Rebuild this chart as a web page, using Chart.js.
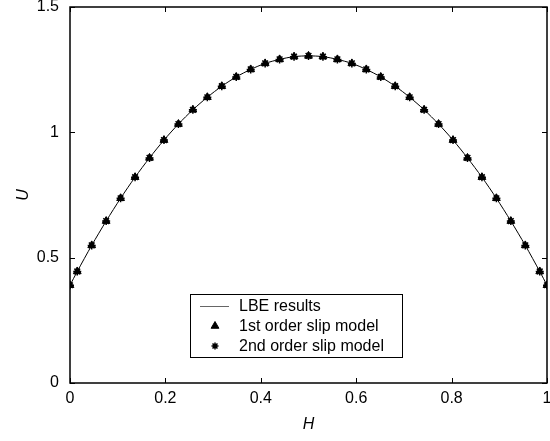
<!DOCTYPE html>
<html>
<head>
<meta charset="utf-8">
<script src="https://cdn.jsdelivr.net/npm/chart.js@4/dist/chart.umd.min.js"></script>
<style>
  html, body { margin: 0; padding: 0; background: #fff; }
  #wrap { width: 550px; height: 441px; }
</style>
</head>
<body>
<div id="wrap"><canvas id="velChart" width="550" height="441"></canvas></div>
<script>
// values
const hValues = [0, 0.0152, 0.0455, 0.0758, 0.1061, 0.1364, 0.1667, 0.1970, 0.2273, 0.2576,
  0.2879, 0.3182, 0.3485, 0.3788, 0.4091, 0.4394, 0.4697, 0.5, 0.5303, 0.5606,
  0.5909, 0.6212, 0.6515, 0.6818, 0.7121, 0.7424, 0.7727, 0.8030, 0.8333, 0.8636,
  0.8939, 0.9242, 0.9545, 0.9848, 1];
const uLbe = [0.390, 0.445, 0.549, 0.646, 0.737, 0.821, 0.898, 0.969, 1.033, 1.090,
  1.140, 1.184, 1.221, 1.251, 1.275, 1.291, 1.302, 1.305, 1.302, 1.291,
  1.275, 1.251, 1.221, 1.184, 1.140, 1.090, 1.033, 0.969, 0.898, 0.821,
  0.737, 0.646, 0.549, 0.445, 0.390];
const uFirstOrder = uLbe.slice();
const uSecondOrder = uLbe.slice();
const xTicks = [0, 0.2, 0.4, 0.6, 0.8, 1];
const yTicks = [0, 0.5, 1, 1.5];
const legendLabels = ['LBE results', '1st order slip model', '2nd order slip model'];

const font = 'Liberation Sans, Arial, sans-serif';

function pts(ys) {
  return hValues.map((h, i) => ({ x: h, y: ys[i] }));
}

function noPad(s) {
  s.paddingLeft = 0; s.paddingRight = 0; s.paddingTop = 0; s.paddingBottom = 0;
}

// matlab-like box with inward ticks, x labels and legend
const framePlugin = {
  id: 'frame',
  afterDraw(chart) {
    const { ctx, chartArea: a, scales } = chart;
    ctx.save();
    ctx.strokeStyle = '#000';
    ctx.lineWidth = 1.5;
    ctx.strokeRect(a.left, a.top, a.right - a.left, a.bottom - a.top);
    ctx.lineWidth = 1;
    ctx.beginPath();
    xTicks.forEach(v => {
      const px = Math.round(scales.x.getPixelForValue(v)) + 0.5;
      ctx.moveTo(px, a.bottom); ctx.lineTo(px, a.bottom - 5);
      ctx.moveTo(px, a.top); ctx.lineTo(px, a.top + 5);
    });
    yTicks.forEach(v => {
      const py = Math.round(scales.y.getPixelForValue(v)) + 0.5;
      ctx.moveTo(a.left, py); ctx.lineTo(a.left + 5, py);
      ctx.moveTo(a.right, py); ctx.lineTo(a.right - 5, py);
    });
    ctx.stroke();

    // x tick labels (drawn here so they don't shrink the plot area)
    ctx.fillStyle = '#000';
    ctx.font = '16px ' + font;
    ctx.textAlign = 'center';
    ctx.textBaseline = 'middle';
    xTicks.forEach(v => ctx.fillText(String(v), scales.x.getPixelForValue(v), a.bottom + 16));

    // legend box
    const lx = 190, ly = 294, lw = 212, lh = 63;
    ctx.fillStyle = '#fff';
    ctx.fillRect(lx, ly, lw, lh);
    ctx.lineWidth = 1;
    ctx.strokeRect(lx + 0.5, ly + 0.5, lw, lh);
    ctx.textAlign = 'left';
    const rows = [306, 326, 346];
    ctx.strokeStyle = '#666';
    ctx.beginPath();
    ctx.moveTo(200, rows[0] + 0.5); ctx.lineTo(229, rows[0] + 0.5);
    ctx.stroke();
    ctx.strokeStyle = '#000';
    ctx.fillStyle = '#000';
    Chart.helpers.drawPoint(ctx, { pointStyle: 'triangle', radius: 4.5, rotation: 0, borderWidth: 1 }, 215, rows[1]);
    ctx.lineWidth = 1.5;
    Chart.helpers.drawPoint(ctx, { pointStyle: 'star', radius: 3.5, rotation: 0, borderWidth: 1.5 }, 215, rows[2]);
    ctx.fillStyle = '#000';
    legendLabels.forEach((t, i) => ctx.fillText(t, 239, rows[i] + 1));
    ctx.restore();
  }
};

new Chart(document.getElementById('velChart'), {
  type: 'scatter',
  data: {
    datasets: [
      {
        label: legendLabels[0],
        data: pts(uLbe),
        showLine: true,
        borderColor: '#000',
        borderWidth: 1,
        pointRadius: 0,
        tension: 0.3,
        order: 3
      },
      {
        label: legendLabels[1],
        data: pts(uFirstOrder),
        pointStyle: 'triangle',
        pointRadius: 4.5,
        backgroundColor: '#000',
        borderColor: '#000',
        borderWidth: 1,
        order: 2
      },
      {
        label: legendLabels[2],
        data: pts(uSecondOrder),
        pointStyle: 'star',
        pointRadius: 4,
        backgroundColor: '#000',
        borderColor: '#000',
        borderWidth: 1.5,
        order: 1
      }
    ]
  },
  options: {
    responsive: false,
    animation: false,
    layout: { autoPadding: false, padding: { top: 7, right: 3, left: 0, bottom: 0 } },
    plugins: { legend: { display: false }, tooltip: { enabled: false } },
    scales: {
      x: {
        type: 'linear',
        min: 0, max: 1,
        afterBuildTicks: s => { s.ticks = xTicks.map(v => ({ value: v })); },
        grid: { display: false },
        border: { display: false },
        ticks: { display: false },
        title: { display: true, text: 'H', color: '#000', font: { family: font, size: 16, style: 'italic' }, padding: { top: 0, bottom: 7 } },
        afterFit: s => { s.height = 58; noPad(s); }
      },
      y: {
        min: 0, max: 1.5,
        afterBuildTicks: s => { s.ticks = yTicks.map(v => ({ value: v })); },
        grid: { display: false },
        border: { display: false },
        ticks: { color: '#000', font: { family: font, size: 16 }, padding: 3, callback: v => String(v) },
        title: { display: true, text: 'U', color: '#000', font: { family: font, size: 16, style: 'italic' }, padding: { top: 14 } },
        afterFit: s => { s.width = 70; noPad(s); }
      }
    }
  },
  plugins: [framePlugin]
});
</script>
</body>
</html>
